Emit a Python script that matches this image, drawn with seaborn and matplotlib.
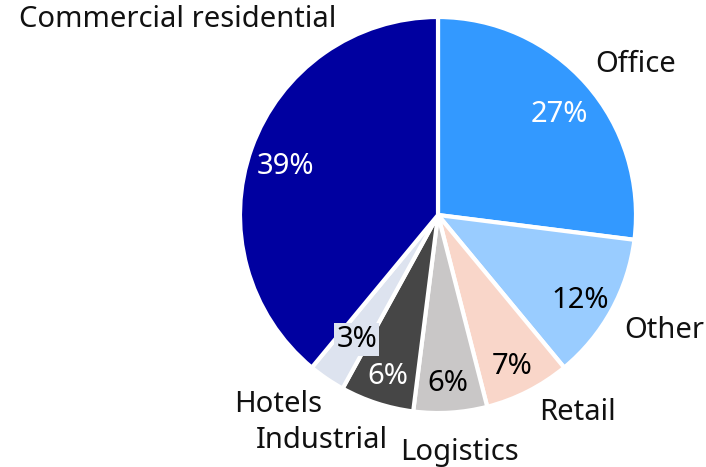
import matplotlib
matplotlib.use("Agg")
import matplotlib.pyplot as plt
import seaborn as sns

# sector split, clockwise from 12 o'clock
sectors = ['Office', 'Other', 'Retail', 'Logistics', 'Industrial', 'Hotels', 'Commercial residential']
shares = [27, 12, 7, 6, 6, 3, 39]
colors = ['#3399FF', '#99CCFF', '#F9D6C9', '#C9C7C7', '#464646', '#DDE3EF', '#0000A0']
pct_colors = ['white', 'black', 'black', 'black', 'white', 'black', 'white']

# where the sector names sit (pie radius = 1)
label_xy = [(1.0, 0.758), (1.141, -0.581), (0.707, -1.0), (0.111, -1.197),
            (-0.586, -1.141), (-0.808, -0.955), (-1.313, 0.985)]

sns.set_theme(style='white')
plt.rcParams['font.family'] = ['Noto Sans', 'DejaVu Sans']

fig = plt.figure(figsize=(7.06, 4.67), dpi=100)
ax = fig.add_axes([0, 0, 1, 1])

wedges, texts, autotexts = ax.pie(
    shares, colors=colors, startangle=90, counterclock=False,
    autopct='%d%%', pctdistance=0.82,
    wedgeprops=dict(edgecolor='white', linewidth=3),
    textprops=dict(fontsize=21, fontweight='light'))

for t, c in zip(autotexts, pct_colors):
    t.set_color(c)
    x, y = t.get_position()
    t.set_position((x, y - 0.035))
# the small hotels slice gets a boxed label
autotexts[5].set_bbox(dict(facecolor=colors[5], edgecolor='none', pad=1.5))
autotexts[5].set_position((-0.41, -0.63))

for name, (x, y) in zip(sectors, label_xy):
    ax.text(x, y, name, ha='center', va='center', fontsize=21,
            fontweight='light', color='#111111')

ax.set_xlim(-438 / 198, (706 - 438) / 198)
ax.set_ylim(-(467 - 215) / 198, 215 / 198)
ax.set_aspect('auto')
ax.axis('off')

fig.savefig('out.png', dpi=100)
